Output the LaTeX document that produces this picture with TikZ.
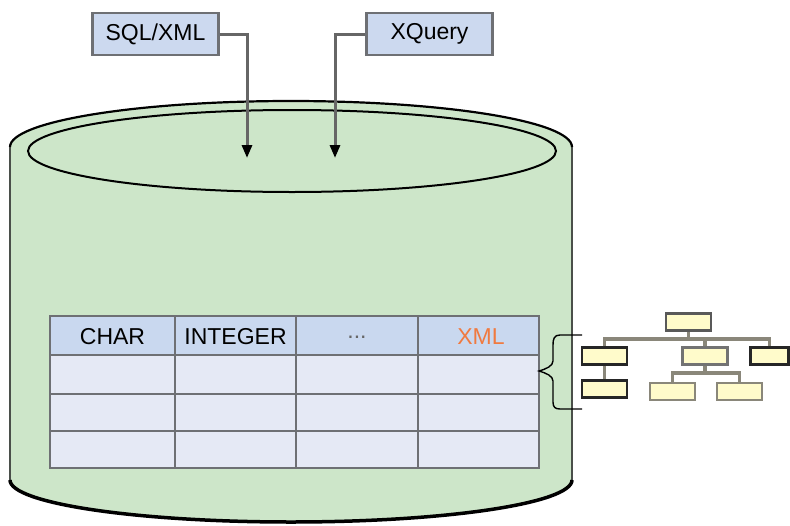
\documentclass[tikz,border=0pt]{standalone}
\usepackage{fontspec}
\setmainfont{Liberation Sans}
\usetikzlibrary{arrows.meta}
\definecolor{cylgreen}{HTML}{CDE6C9}
\definecolor{cyledge}{HTML}{4A4F4A}
\definecolor{hdrblue}{HTML}{C9D8EF}
\definecolor{rowblue}{HTML}{E5E9F5}
\definecolor{boxblue}{HTML}{CCD9EF}
\definecolor{gridgray}{HTML}{6E7074}
\definecolor{xmlorange}{HTML}{F07A40}
\definecolor{treeyellow}{HTML}{FFFBCB}
\definecolor{conngray}{HTML}{666666}
\definecolor{treegray}{HTML}{8A877A}
\tikzset{
  lang/.style={draw=gridgray, line width=2.5pt, fill=boxblue, minimum width=126pt, minimum height=42pt, inner sep=0pt, font=\fontsize{23}{27}\selectfont},
  hdr/.style={inner sep=0pt, font=\fontsize{23}{27}\selectfont},
  conn/.style={draw=conngray, line width=3pt, -{Triangle[length=13pt,width=10pt,color=black]}},
  tbox/.style={fill=treeyellow, line width=2.5pt, minimum width=45pt, minimum height=17pt, inner sep=0pt},
  darkbox/.style={tbox, draw=black!85},
  lightbox/.style={tbox, draw=treegray},
  tconn/.style={draw=treegray, line width=3.5pt},
}
\begin{document}
\begin{tikzpicture}[x=1pt,y=-1pt]
\useasboundingbox (0,0) rectangle (790,525);
% cylinder body
\path[fill=cylgreen] (10,147) arc[start angle=180,end angle=360,x radius=281,y radius=46] -- (572,480) arc[start angle=0,end angle=180,x radius=281,y radius=42] -- cycle;
\draw[cyledge, line width=2.2pt] (10,147) -- (10,480);
\draw[cyledge, line width=2.2pt] (572,147) -- (572,480);
\draw[black, line width=2.2pt] (10,147) arc[start angle=180,end angle=360,x radius=281,y radius=46];
\draw[black, line width=3.5pt] (10,480) arc[start angle=180,end angle=0,x radius=281,y radius=42];
\draw[black, line width=2pt] (292,151) ellipse [x radius=264, y radius=41];
% table
\fill[hdrblue] (50,316) rectangle (539,355);
\fill[rowblue] (50,355) rectangle (539,468);
\draw[gridgray, line width=2.6pt] (50,316) rectangle (539,468);
\foreach \xx in {175,296,418} \draw[gridgray, line width=2.6pt] (\xx,316) -- (\xx,468);
\foreach \yy in {355,394,431} \draw[gridgray, line width=2.6pt] (50,\yy) -- (539,\yy);
\node[hdr] (hchar) at (112.5,337) {CHAR};
\node[hdr] (hint) at (235.5,337) {INTEGER};
\node[hdr, text=black!60] (hdots) at (357,337) {...};
\node[hdr, text=xmlorange] (hxml) at (481,337) {XML};
% language boxes and arrows
\node[lang] (sql) at (155.5,34) {SQL/XML};
\node[lang] (xq) at (429.5,34) {XQuery};
\coordinate (sqlend) at (247,158);
\coordinate (xqend) at (335,158);
\draw[conn] (sql.east) -| (sqlend);
\draw[conn] (xq.west) -| (xqend);
% brace
\draw[black, line width=1.4pt] (582,335) -- (560,335) .. controls (554,335) and (553,339) .. (553,345) -- (553,361) .. controls (553,366) and (546,369) .. (539,371) .. controls (546,373) and (553,376) .. (553,381) -- (553,402) .. controls (553,407) and (555,409) .. (560,409) -- (582,409);
% tree
\node[lightbox, draw=black!65] (root) at (688.5,322) {};
\node[darkbox] (c1) at (604.5,356) {};
\node[lightbox, draw=black!55] (c2) at (705,356) {};
\node[darkbox, minimum width=38pt] (c3) at (769.5,356) {};
\node[darkbox] (c11) at (604.5,389) {};
\node[lightbox] (c21) at (672.5,391.5) {};
\node[lightbox] (c22) at (739.5,391.5) {};
\coordinate (bar1) at (688.5,339);
\coordinate (bar2) at (705,373);
\draw[tconn] (root.south) -- (bar1);
\draw[tconn] (c1.north) |- (bar1) -| (c3.north);
\draw[tconn] (c2.north) -- (c2.north |- bar1);
\draw[tconn] (c1.south) -- (c11.north);
\draw[tconn] (c2.south) -- (bar2);
\draw[tconn] (c21.north) |- (bar2) -| (c22.north);
\end{tikzpicture}
\end{document}
